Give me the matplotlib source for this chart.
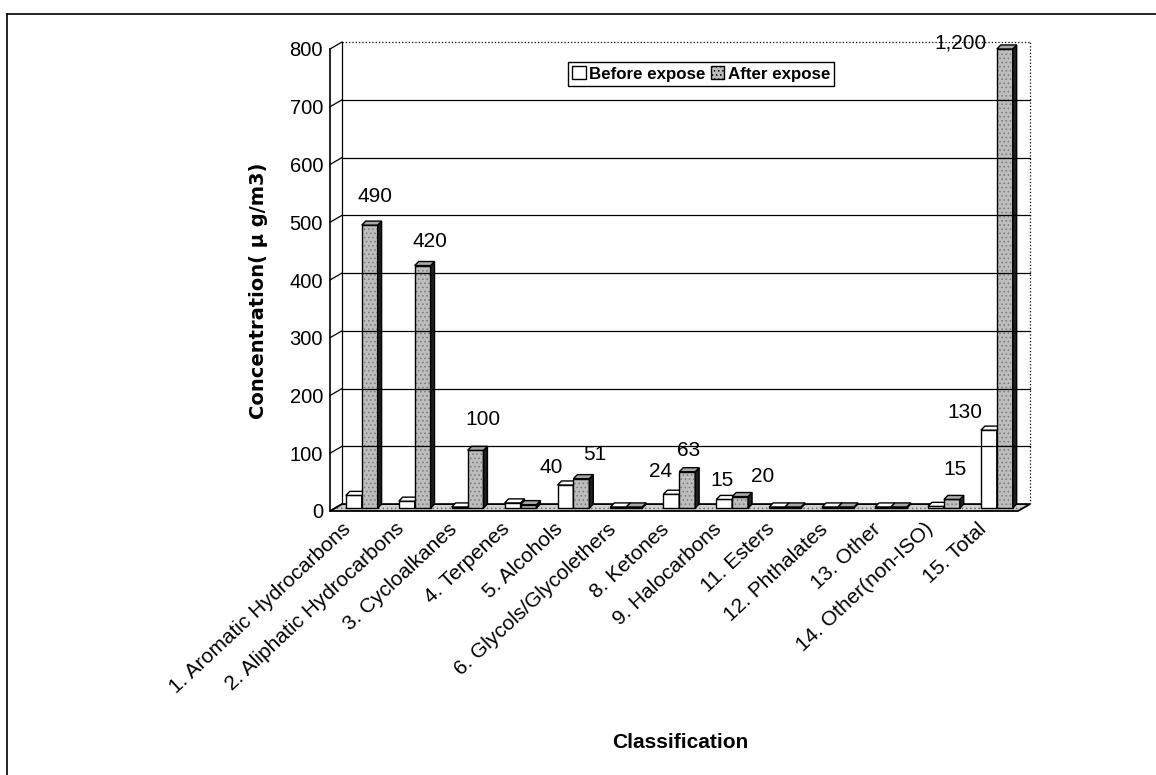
import numpy as np
import matplotlib.pyplot as plt
from matplotlib.patches import Polygon, Patch
from matplotlib.lines import Line2D

plt.rcParams['font.family'] = ['Liberation Sans', 'Noto Sans CJK JP', 'DejaVu Sans']
plt.rcParams['hatch.linewidth'] = 0.6

categories = ["1. Aromatic Hydrocarbons", "2. Aliphatic Hydrocarbons", "3. Cycloalkanes",
              "4. Terpenes", "5. Alcohols", "6. Glycols/Glycolethers", "8. Ketones",
              "9. Halocarbons", "11. Esters", "12. Phthalates", "13. Other",
              "14. Other(non-ISO)", "15. Total"]
before = [22, 12, 2, 9, 40, 2, 24, 15, 2, 2, 2, 3, 135]
after = [490, 420, 100, 6, 51, 2, 63, 20, 2, 2, 2, 15, 1200]

# value labels that appear on the chart
label_cat = [0, 1, 2, 4, 4, 6, 6, 7, 7, 11, 12, 12]
label_series = ["after", "after", "after", "before", "after", "before",
                "after", "before", "after", "after", "before", "after"]
label_text = ["490", "420", "100", "40", "51", "24", "63", "15", "20", "15", "130", "1,200"]

yticks = list(range(0, 801, 100))
ymax = 800

# placement of the value labels (offset from bar top, like the original)
label_dx = [0.35, 0.39, 0.39, -0.32, 0.51, -0.25, 0.28, -0.09, 0.68, 0.31, -0.5, -0.58]
label_dy = [54, 47, 58, 36, 46, 45, 41, 37, 39, 56, 36, 10]

fig = plt.figure(figsize=(11.56, 7.75), dpi=100)
ax = fig.add_axes([330/1156, 1-511/775, 688/1156, 462/775])
n = len(categories)
x0, x1 = -0.5, n - 0.5
ax.set_xlim(x0, x1)
ax.set_ylim(0, ymax)
for s in ax.spines.values():
    s.set_visible(False)

#### fake 3d walls ####
DX, DY = 0.227, 12   # depth of the chart box
grey = "#bdbdbd"
floor_pts = [(x0, 0), (x1, 0), (x1+DX, DY), (x0+DX, DY)]
ax.add_patch(Polygon(floor_pts, closed=True, facecolor="#d0d0d0", edgecolor="#707070",
                     hatch="....", lw=0, clip_on=False))
ax.add_patch(Polygon(floor_pts, closed=True, fill=False, edgecolor="black", lw=1.3,
                     clip_on=False))
for v in yticks[1:]:
    ls = ":" if v == ymax else "-"
    ax.plot([x0+DX, x1+DX], [v+DY, v+DY], color="black", lw=0.9, ls=ls, clip_on=False)
for v in yticks:
    ax.plot([x0, x0+DX], [v, v+DY], color="black", lw=0.9, clip_on=False)
ax.plot([x0+DX, x0+DX], [DY, ymax+DY], color="black", lw=0.9, clip_on=False)
ax.plot([x1+DX, x1+DX], [DY, ymax+DY], color="black", lw=0.9, ls=":", clip_on=False)
ax.plot([x0, x0], [0, ymax], color="black", lw=1.2, clip_on=False)

#### bars ####
w = 0.3
bx, by = 0.075, 7  # bar depth
b0 = 5


def bar3d(left, val, face, side, top, hatch=None):
    h = min(val, ymax - b0)
    if hatch:
        ax.bar(left, h, width=w, bottom=b0, align="edge", color=face,
               edgecolor="#7a7a7a", hatch=hatch, lw=0, clip_on=False)
        ax.bar(left, h, width=w, bottom=b0, align="edge", fill=False,
               edgecolor="black", lw=1.0, clip_on=False)
    else:
        ax.bar(left, h, width=w, bottom=b0, align="edge", color=face,
               edgecolor="black", lw=1.0, clip_on=False)
    r = left + w
    ax.add_patch(Polygon([(r, b0), (r+bx, b0+by), (r+bx, b0+h+by), (r, b0+h)],
                         closed=True, facecolor=side, edgecolor="black", lw=1.0, clip_on=False))
    ax.add_patch(Polygon([(left, b0+h), (r, b0+h), (r+bx, b0+h+by), (left+bx, b0+h+by)],
                         closed=True, facecolor=top, edgecolor="black", lw=1.0, clip_on=False))


for i in range(n):
    bar3d(i - 0.2, before[i], "white", "#e8e8e8", "white")
    bar3d(i + 0.1, after[i], grey, "#1e1e1e", "#a8a8a8", hatch="....")

#### value labels ####
for c, s, t, dx, dy in zip(label_cat, label_series, label_text, label_dx, label_dy):
    val = before[c] if s == "before" else after[c]
    ax.text(c + dx, min(val, ymax) + dy, t, ha="center", va="center", fontsize=15)

#### axes text ####
ax.set_yticks(yticks)
ax.set_yticklabels([str(v) for v in yticks], fontsize=14.5)
ax.tick_params(axis="y", length=0, pad=5)
ax.set_xticks(np.arange(n) - 0.15)
ax.set_xticklabels(categories, rotation=43, ha="right", va="center",
                   rotation_mode="anchor", fontsize=15)
ax.tick_params(axis="x", length=0, pad=11)

fig.text(258/1156, 1-291/775, "Concentration( μ g/m3)", rotation=90, ha="center",
         va="center", fontsize=14, fontweight="bold", family="DejaVu Sans")
fig.text(680/1156, 1-743/775, "Classification", ha="center", va="center",
         fontsize=15, fontweight="bold")

handles = [Patch(facecolor="white", edgecolor="black"),
           Patch(facecolor=grey, edgecolor="black", hatch="....")]
ax.legend(handles, ["Before expose", "After expose"], ncol=2, loc="upper left",
          bbox_to_anchor=(0.346, 0.972), borderaxespad=0, frameon=True, fancybox=False,
          edgecolor="black", framealpha=1, handlelength=0.8, handleheight=0.8,
          handletextpad=0.2, columnspacing=0.3, borderpad=0.25,
          prop={"weight": "bold", "size": 12.2})

# frame of the scanned page
fig.add_artist(Line2D([7/1156, 7/1156], [0, 1-14/775], transform=fig.transFigure,
                      color="black", lw=1.2))
fig.add_artist(Line2D([7/1156, 1], [1-14/775, 1-14/775], transform=fig.transFigure,
                      color="black", lw=1.2))

fig.savefig("out.png", dpi=100)
